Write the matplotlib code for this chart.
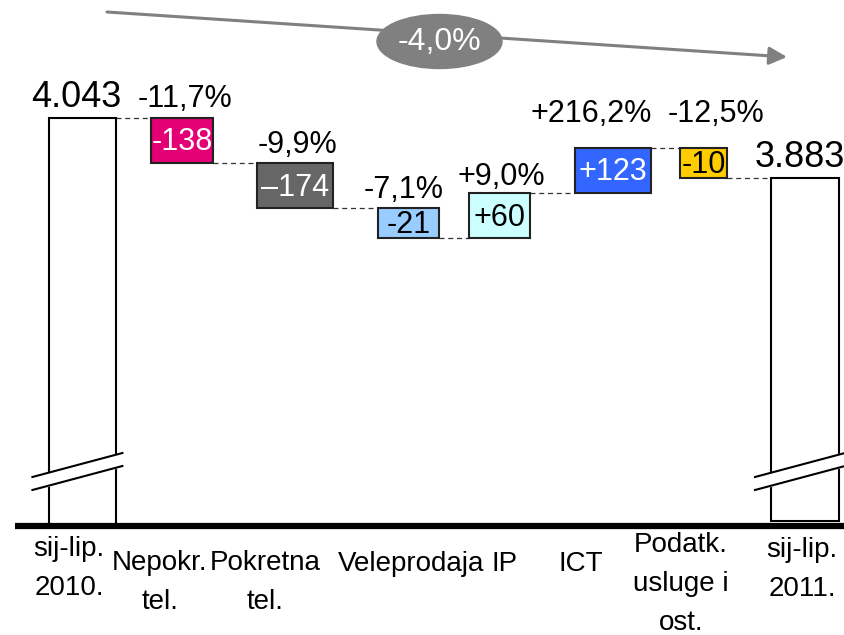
import numpy as np
import matplotlib
matplotlib.use('Agg')
import matplotlib.pyplot as plt
from matplotlib.patches import Ellipse

plt.rcParams['font.family'] = ['Liberation Sans', 'DejaVu Sans']

# data
categories = ['sij-lip.\n2010.', 'Nepokr.\ntel.', 'Pokretna\ntel.', 'Veleprodaja',
              'IP', 'ICT', 'Podatk.\nusluge i\nost.', 'sij-lip.\n2011.']
start_total = 4043
end_total = 3883
deltas = [-138, -174, -21, 60, 123, -10]
delta_labels = ['-138', '\u2013174', '-21', '+60', '+123', '-10']
pct_labels = ['-11,7%', '-9,9%', '-7,1%', '+9,0%', '+216,2%', '-12,5%']
total_change = '-4,0%'

# layout (chart is schematic: steps are not drawn to scale, totals are broken)
bar_x = [82.4, 182, 295, 408.5, 499.5, 613, 704, 805]
bar_w = [67, 62, 76, 61, 61, 76, 47, 68]
bar_colors = ['#E20074', '#666666', '#99CCFF', '#CCFFFF', '#3366FF', '#FFCC00']
text_colors = ['white', 'white', 'black', 'black', 'white', 'black']
pct_x = [185, 298, 404, 501, 591, 716]
pct_lift = [11, 10, 10, 8, 26, 26]
cat_x = [69, 160, 265, 411, 505, 581, 681, 802]
cat_y = [-31, -45, -45, -45, -45, -45, -28, -32]   # first-line baselines
line_step = 38
start_top = 408


def step_size(v):
    # compressed step height for the schematic waterfall
    return np.sign(v) * np.clip(abs(v), 30, 45)


def axis_break(ax, xc, y0):
    xs = np.array([xc - 50, xc + 40])
    lo = np.array([y0, y0 + 24])
    hi = lo + 13
    ax.fill_between(xs, lo, hi, color='white', zorder=4)
    ax.plot(xs, lo, color='black', lw=1.5, zorder=5)
    ax.plot(xs, hi, color='black', lw=1.5, zorder=5)


fig = plt.figure(figsize=(8.45, 6.35), dpi=100)
ax = fig.add_axes([0, 0, 1, 1])
ax.set_xlim(0, 845)
ax.set_ylim(-109, 526)
ax.axis('off')

# start total
ax.bar(bar_x[0], start_top, width=bar_w[0], bottom=0, color='white',
       edgecolor='black', lw=1.5, zorder=3)
ax.text(76, start_top + 11, f'{start_total:,}'.replace(',', '.'), ha='center',
        va='baseline', fontsize=26)

level = start_top
levels = [level]
for i, v in enumerate(deltas):
    s = step_size(v)
    new = level + s
    lo = min(level, new)
    xc = bar_x[i + 1]
    ax.bar(xc, abs(s), width=bar_w[i + 1], bottom=lo, color=bar_colors[i],
           edgecolor='#222222', lw=1.5, zorder=3)
    ax.text(xc, lo + abs(s) / 2 - 2, delta_labels[i], ha='center', va='center',
            fontsize=22, color=text_colors[i], zorder=6)
    ax.text(pct_x[i], max(level, new) + pct_lift[i], pct_labels[i], ha='center',
            va='baseline', fontsize=22)
    level = new
    levels.append(level)

# end total
ax.bar(bar_x[-1], level - 5, width=bar_w[-1], bottom=5, color='white',
       edgecolor='black', lw=1.5, zorder=3)
ax.text(800, level + 11, f'{end_total:,}'.replace(',', '.'), ha='center',
        va='baseline', fontsize=26)

# dashed connectors
for i in range(len(bar_x) - 1):
    x0 = bar_x[i] + bar_w[i] / 2
    x1 = bar_x[i + 1] - bar_w[i + 1] / 2
    ax.plot([x0, x1], [levels[i], levels[i]], color='#333333', lw=0.9,
            dashes=(4, 3), zorder=2)

axis_break(ax, bar_x[0], 36)
axis_break(ax, bar_x[-1], 36)

# baseline
ax.plot([15, 845], [0, 0], color='black', lw=4.5, zorder=6, solid_capstyle='butt')

# category labels (va='baseline' anchors the last line)
for x, y, c in zip(cat_x, cat_y, categories):
    n = c.count('\n')
    ax.text(x, y - n * line_step, c, ha='center', va='baseline', fontsize=20,
            linespacing=1.64)

# overall change arrow
ax.annotate('', xy=(787, 469), xytext=(107, 514),
            arrowprops=dict(arrowstyle='-|>', color='#808080', lw=2.2,
                            mutation_scale=27, shrinkA=0, shrinkB=0), zorder=4)
ax.add_patch(Ellipse((439.5, 484.5), 125, 54, color='#808080', zorder=5))
ax.text(439.5, 484.5, total_change, ha='center', va='center', fontsize=23,
        color='white', zorder=6)

fig.savefig('out.png', dpi=100)
